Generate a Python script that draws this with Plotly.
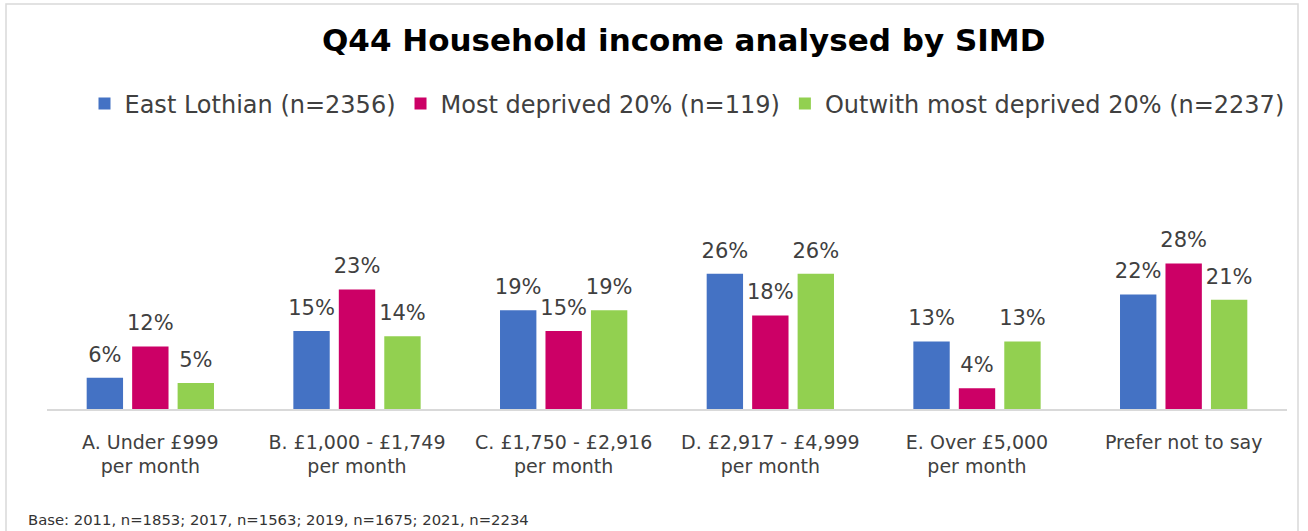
import plotly.graph_objects as go

categories = ["A. Under £999<br>per month", "B. £1,000 - £1,749<br>per month",
              "C. £1,750 - £2,916<br>per month", "D. £2,917 - £4,999<br>per month",
              "E. Over £5,000<br>per month", "Prefer not to say"]
series_names = ["East Lothian (n=2356)", "Most deprived 20% (n=119)", "Outwith most deprived 20% (n=2237)"]
east_lothian = [6, 15, 19, 26, 13, 22]
most_deprived = [12, 23, 15, 18, 4, 28]
outwith = [5, 14, 19, 26, 13, 21]
colors = ["#4472C4", "#CC0066", "#92D050"]

title_text = "Q44 Household income analysed by SIMD"
footnote = "Base: 2011, n=1853; 2017, n=1563; 2019, n=1675; 2021, n=2234"

FONT = "DejaVu Sans"
TXT = "#404040"
GAP = 0.34

fig = go.Figure()
all_series = [east_lothian, most_deprived, outwith]
for i, (name, vals, col) in enumerate(zip(series_names, all_series, colors)):
    fig.add_trace(go.Bar(
        x=categories, y=vals, name=name, offsetgroup=str(i),
        marker=dict(color=col, line=dict(width=0)),
    ))
for i, vals in enumerate(all_series):
    fig.add_trace(go.Scatter(
        x=categories, y=vals, mode="markers+text", offsetgroup=str(i),
        text=[f"{v}%" for v in vals], textposition="top center",
        marker=dict(size=16, opacity=0), cliponaxis=False, showlegend=False,
        hoverinfo="skip",
        textfont=dict(family=FONT, size=21, color=TXT),
    ))

W, H = 1308, 531
L, R, T, B = 47, W - 1287, 253, H - 409
ph = H - T - B
pw = W - L - R

def py(pix):
    return (H - B - pix) / ph

def px(pix):
    return (pix - L) / pw

fig.update_layout(
    width=W, height=H,
    margin=dict(l=L, r=R, t=T, b=B, autoexpand=False),
    paper_bgcolor="white", plot_bgcolor="white",
    barmode="group", bargap=GAP, bargroupgap=0.2,
    scattermode="group", scattergap=GAP,
    font=dict(family=FONT, color=TXT),
    showlegend=True,
    legend=dict(orientation="h", x=px(687), xanchor="center", y=py(104), yanchor="middle",
                font=dict(family=FONT, size=24, color=TXT), itemwidth=30,
                traceorder="normal", bgcolor="rgba(0,0,0,0)"),
    xaxis=dict(showline=True, linecolor="#D9D9D9", linewidth=1.5, showgrid=False,
               ticks="", tickfont=dict(family=FONT, size=19, color=TXT),
               ticklabelstandoff=15, fixedrange=True),
    yaxis=dict(range=[0, 30], visible=False, showgrid=False, fixedrange=True),
    annotations=[
        dict(text=f"<b>{title_text}</b>", xref="paper", yref="paper", x=px(683), y=py(40),
             xanchor="center", yanchor="middle", showarrow=False,
             font=dict(family=FONT, size=31, color="black")),
        dict(text=footnote, xref="paper", yref="paper", x=px(26), y=py(519),
             xanchor="left", yanchor="middle", showarrow=False,
             font=dict(family=FONT, size=14.8, color="#333333")),
    ],
    shapes=[
        dict(type="rect", xref="paper", yref="paper", x0=px(6), x1=px(1298), y0=py(540), y1=py(4),
             line=dict(color="#D9D9D9", width=1.5), fillcolor="rgba(0,0,0,0)", layer="below"),
    ],
)

fig.write_html("out.html", config={"displayModeBar": False},
               post_script="document.body.style.margin='0px';")
